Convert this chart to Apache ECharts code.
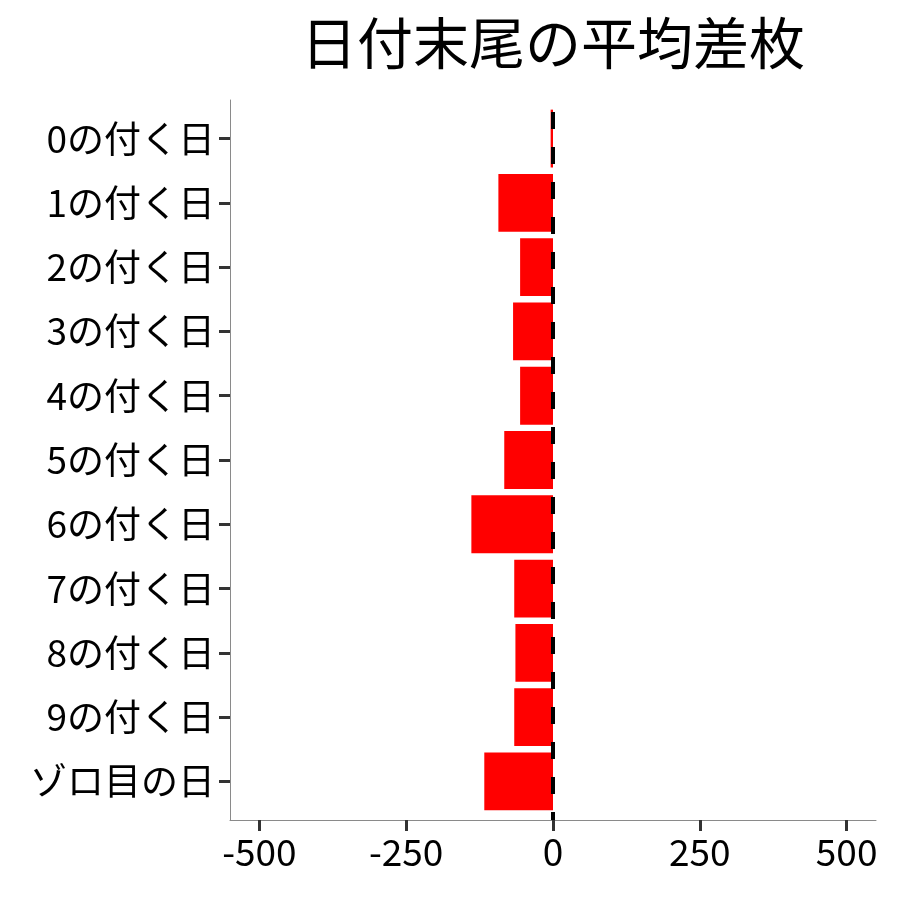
<!DOCTYPE html>
<html>
<head>
<meta charset="utf-8">
<script src="https://cdn.jsdelivr.net/npm/echarts@6/dist/echarts.min.js"></script>
<style>
html,body{margin:0;padding:0;background:#fff;}
#main{width:900px;height:900px;}
</style>
</head>
<body>
<div id="main"></div>
<script>
var titleText = '日付末尾の平均差枚';
var categories = ['0の付く日','1の付く日','2の付く日','3の付く日','4の付く日','5の付く日','6の付く日','7の付く日','8の付く日','9の付く日','ゾロ目の日'];
var values = [-4, -93, -56, -68, -56, -83, -139, -66, -64, -66, -117];
var xTicks = [-500, -250, 0, 250, 500];
var refLine = 0;

var FONT = 'Noto Sans CJK JP';
var chart = echarts.init(document.getElementById('main'), null, {renderer: 'canvas'});
var band = 720 / 11.2;
var pad = 0.1 * band;

chart.setOption({
  backgroundColor: '#ffffff',
  animation: false,
  title: {
    text: titleText,
    left: 548, top: 10, textAlign: 'center',
    textStyle: {fontFamily: FONT, fontSize: 56, fontWeight: 'normal', color: '#000'}
  },
  grid: [
    {left: 230, right: 24, top: 100, bottom: 80},
    {left: 230, right: 24, top: 100 + pad, bottom: 80 + pad}
  ],
  xAxis: [
    {
      type: 'value', gridIndex: 0, min: -550, max: 550, position: 'bottom',
      axisLine: {show: true, onZero: false, lineStyle: {color: '#8a8a8a', width: 1}},
      axisTick: {show: true, length: 11, customValues: xTicks, lineStyle: {color: '#333', width: 3}},
      axisLabel: {customValues: xTicks, margin: 13, fontFamily: FONT, fontSize: 37, color: '#000'},
      splitLine: {show: false}
    },
    {
      type: 'value', gridIndex: 1, min: -550, max: 550, show: false,
      axisLine: {onZero: false}
    }
  ],
  yAxis: [
    {
      type: 'value', gridIndex: 0, min: 0, max: 1, position: 'left',
      axisLine: {show: true, onZero: false, lineStyle: {color: '#8a8a8a', width: 1}},
      axisTick: {show: false}, axisLabel: {show: false}, splitLine: {show: false}
    },
    {
      type: 'category', gridIndex: 1, data: categories, inverse: true, position: 'left',
      axisLine: {show: false, onZero: false},
      axisTick: {show: true, alignWithLabel: true, length: 11, lineStyle: {color: '#333', width: 3}},
      axisLabel: {margin: 15, fontFamily: FONT, fontSize: 37, color: '#000'},
      splitLine: {show: false}
    }
  ],
  series: [
    {
      type: 'bar', xAxisIndex: 1, yAxisIndex: 1,
      data: values, barWidth: '90%',
      itemStyle: {color: '#ff0000'}
    },
    {
      type: 'line', xAxisIndex: 0, yAxisIndex: 0,
      data: [[refLine, 1]], showSymbol: false, symbolSize: 0,
      lineStyle: {opacity: 0}, z: 10,
      markLine: {
        silent: true, symbol: ['none', 'none'], z: 10,
        label: {show: false},
        lineStyle: {color: '#000', width: 4, type: [17, 18], dashOffset: 9},
        data: [{xAxis: refLine}]
      }
    }
  ]
});
</script>
</body>
</html>
